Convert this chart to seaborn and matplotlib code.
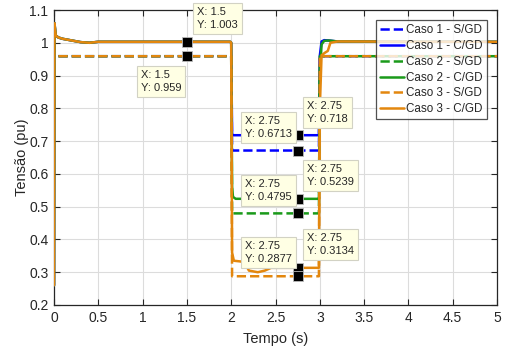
import numpy as np
import pandas as pd
import matplotlib
matplotlib.use("Agg")
import matplotlib.pyplot as plt
import seaborn as sns
from matplotlib.ticker import FixedLocator, FixedFormatter

# ---------------- data ----------------
x_ticks = [0, 0.5, 1, 1.5, 2, 2.5, 3, 3.5, 4, 4.5, 5]
x_tick_labels = ["0", "0.5", "1", "1.5", "2", "2.5", "3", "3.5", "4", "4.5", "5"]
y_ticks = [0.2, 0.3, 0.4, 0.5, 0.6, 0.7, 0.8, 0.9, 1.0, 1.1]
y_tick_labels = ["0.2", "0.3", "0.4", "0.5", "0.6", "0.7", "0.8", "0.9", "1", "1.1"]

# S/GD (dashed) series
t_sgd = [0.05, 1.99, 2.0, 2.01, 2.95, 2.96, 2.99, 3.0, 3.05, 5.0]
caso1_sgd = [0.959, 0.959, 0.959, 0.6713, 0.6713, 0.6713, 0.6713, 0.959, 0.959, 0.959]
caso2_sgd = [0.959, 0.959, 0.959, 0.4795, 0.4795, 0.4795, 0.4795, 0.959, 0.959, 0.959]
caso3_sgd = [0.959, 0.959, 0.959, 0.2877, 0.2877, 0.2877, 0.2877, 0.959, 0.959, 0.959]

# C/GD (solid) series
t_c1 = [0.0, 0.005, 0.02, 0.05, 0.1, 0.2, 0.3, 0.4, 0.5, 1.0, 1.99, 2.0, 2.01, 2.03,
        2.5, 2.99, 3.0, 3.02, 3.05, 3.1, 3.2, 5.0]
caso1_cgd = [0.26, 1.06, 1.022, 1.016, 1.012, 1.007, 1.002, 1.0, 1.003, 1.003, 1.003, 1.0,
             0.72, 0.718, 0.718, 0.718, 0.96, 1.004, 1.008, 1.007, 1.004, 1.003]
t_c2 = [0.0, 0.005, 0.02, 0.05, 0.1, 0.2, 0.3, 0.4, 0.5, 1.0, 1.99, 2.0, 2.01, 2.02,
        2.05, 2.5, 2.99, 3.0, 3.02, 3.05, 3.1, 3.2, 5.0]
caso2_cgd = [0.26, 1.06, 1.022, 1.016, 1.012, 1.007, 1.002, 1.0, 1.003, 1.003, 1.003, 1.0,
             0.56, 0.53, 0.524, 0.5239, 0.5239, 0.9, 0.995, 1.006, 1.007, 1.004, 1.003]
t_c3 = [0.0, 0.005, 0.02, 0.05, 0.1, 0.2, 0.3, 0.4, 0.5, 1.0, 1.99, 2.0, 2.01, 2.03,
        2.1, 2.15, 2.2, 2.3, 2.38, 2.45, 2.99, 3.0, 3.02, 3.06, 3.09, 3.12, 3.2, 5.0]
caso3_cgd = [0.26, 1.06, 1.022, 1.016, 1.012, 1.007, 1.002, 1.0, 1.003, 1.003, 1.003, 1.0,
             0.36, 0.335, 0.333, 0.33, 0.305, 0.30, 0.305, 0.3134, 0.3134, 0.8, 0.962, 0.97,
             0.975, 1.0, 1.004, 1.003]

# data tips
tip_x = [1.5, 1.5, 2.75, 2.75, 2.75, 2.75, 2.75, 2.75]
tip_y = [1.003, 0.959, 0.718, 0.6713, 0.5239, 0.4795, 0.3134, 0.2877]
# (text, box left px, box top px)
tip_boxes = [
    ("X: 1.5\nY: 1.003", 193, 3),
    ("X: 1.5\nY: 0.959", 137, 66),
    ("X: 2.75\nY: 0.6713", 241, 112),
    ("X: 2.75\nY: 0.718", 303, 97),
    ("X: 2.75\nY: 0.4795", 241, 175),
    ("X: 2.75\nY: 0.5239", 303, 160),
    ("X: 2.75\nY: 0.2877", 241, 237),
    ("X: 2.75\nY: 0.3134", 303, 229),
]

labels = ["Caso 1 - S/GD", "Caso 1 - C/GD", "Caso 2 - S/GD",
          "Caso 2 - C/GD", "Caso 3 - S/GD", "Caso 3 - C/GD"]
blue = "#0000FF"
green = "#1A9A1A"
orange = "#E3870E"

# ---------------- plot ----------------
sns.set_style("ticks")
plt.rcParams["font.family"] = ["Liberation Sans", "DejaVu Sans"]

W, H = 508, 347
fig = plt.figure(figsize=(W / 100, H / 100), dpi=100)
L, R, T, B = 54, 497, 10, 305
ax = fig.add_axes([L / W, 1 - B / H, (R - L) / W, (B - T) / H])

series = [
    (t_sgd, caso1_sgd, blue, "--"),
    (t_c1, caso1_cgd, blue, "-"),
    (t_sgd, caso2_sgd, green, "--"),
    (t_c2, caso2_cgd, green, "-"),
    (t_sgd, caso3_sgd, orange, "--"),
    (t_c3, caso3_cgd, orange, "-"),
]
for (tx, ty, col, ls), lab in zip(series, labels):
    df = pd.DataFrame({"t": tx, "v": ty})
    kw = dict(dashes=(3.2, 2.6)) if ls == "--" else {}
    sns.lineplot(data=df, x="t", y="v", ax=ax, color=col, linestyle=ls,
                 linewidth=1.8, label=lab, estimator=None, sort=False, zorder=3,
                 **kw)

ax.set_xlim(0, 5)
ax.set_ylim(0.2, 1.1)
ax.xaxis.set_major_locator(FixedLocator(x_ticks))
ax.xaxis.set_major_formatter(FixedFormatter(x_tick_labels))
ax.yaxis.set_major_locator(FixedLocator(y_ticks))
ax.yaxis.set_major_formatter(FixedFormatter(y_tick_labels))
ax.grid(True, color="#DCDCDC", linewidth=0.8, zorder=0)
ax.set_axisbelow(True)
ax.tick_params(direction="in", top=True, right=True, length=4, width=0.8,
               labelsize=10, colors="#262626", pad=4)
for s in ax.spines.values():
    s.set_color("#262626")
    s.set_linewidth(0.9)
ax.set_xlabel("Tempo (s)", fontsize=10.5, color="#262626", labelpad=5)
ax.set_ylabel("Tensão (pu)", fontsize=10.5, color="#262626", labelpad=0)

leg = ax.legend(loc="upper right", bbox_to_anchor=(1 - 10 / (R - L), 1 - 10 / (B - T)),
                borderaxespad=0, frameon=True, fancybox=False, fontsize=8.4,
                handlelength=2.1, handletextpad=0.2, labelspacing=0.33,
                borderpad=0.35)
leg.get_frame().set_edgecolor("#262626")
leg.get_frame().set_linewidth(0.9)
leg.set_zorder(10)

# data tip markers
ax.plot(tip_x, tip_y, linestyle="none", marker="s", markersize=7,
        markerfacecolor="black", markeredgecolor="#BBBBBB", markeredgewidth=0.6,
        zorder=6, clip_on=False)

def px2data(px, py):
    return (px - L) / (R - L) * 5, 1.1 - (py - T) / (B - T) * 0.9

pad_px = 3
for txt, bx, by in tip_boxes:
    dx, dy = px2data(bx + pad_px + 1, by + pad_px + 1)
    ax.text(dx, dy, txt, fontsize=8, va="top", ha="left", color="#262626",
            linespacing=1.35, zorder=7, clip_on=False,
            bbox=dict(boxstyle="square,pad=0.35", facecolor="#FFFFE4",
                      edgecolor="#D2D2C4", linewidth=0.8))

fig.savefig("out.png", dpi=100)
